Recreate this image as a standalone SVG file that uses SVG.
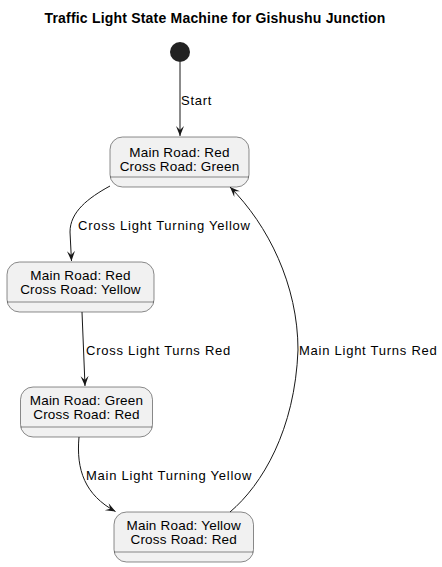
<svg xmlns="http://www.w3.org/2000/svg" width="442" height="567" viewBox="0 0 442 567">
<defs>
<marker id="arr" markerUnits="userSpaceOnUse" markerWidth="12" markerHeight="10" refX="10" refY="4" orient="auto">
<path d="M0,0 L10,4 L0,8 L4,4 Z" fill="#181818"/>
</marker>
<style>
.node rect{fill:#F1F1F1;stroke:#181818;stroke-width:0.5}
.node line{stroke:#181818;stroke-width:0.5}
.node text{font-family:"Liberation Sans",Arial,sans-serif;font-size:13.5px;letter-spacing:0.2px;fill:#000;text-anchor:middle}
.edge{fill:none;stroke:#181818;stroke-width:1;marker-end:url(#arr)}
.lbl{font-family:"Liberation Sans",Arial,sans-serif;font-size:13px;letter-spacing:0.75px;fill:#000}
.title{font-family:"Liberation Sans",Arial,sans-serif;font-size:14px;font-weight:bold;fill:#000;text-anchor:middle;letter-spacing:0.2px}
</style>
</defs>
<rect width="442" height="567" fill="#FFFFFF"/>
<text class="title" x="215" y="23">Traffic Light State Machine for Gishushu Junction</text>
<g id="start"><circle cx="180" cy="52" r="10" fill="#222222"/></g>
<g id="s1" class="node">
<rect x="110" y="137" width="139" height="50" rx="12.5"/>
<line x1="110" y1="177" x2="249" y2="177"/>
<text x="179.5" y="157"><tspan x="179.5">Main Road: Red</tspan><tspan x="179.5" dy="14">Cross Road: Green</tspan></text>
</g>
<g id="s2" class="node">
<rect x="7" y="262" width="147" height="50" rx="12.5"/>
<line x1="7" y1="302" x2="154" y2="302"/>
<text x="80.5" y="280"><tspan x="80.5">Main Road: Red</tspan><tspan x="80.5" dy="14">Cross Road: Yellow</tspan></text>
</g>
<g id="s3" class="node">
<rect x="20.5" y="387" width="132" height="50" rx="12.5"/>
<line x1="20.5" y1="427" x2="152.5" y2="427"/>
<text x="86.5" y="405"><tspan x="86.5">Main Road: Green</tspan><tspan x="86.5" dy="14">Cross Road: Red</tspan></text>
</g>
<g id="s4" class="node">
<rect x="114" y="512" width="139.5" height="50" rx="12.5"/>
<line x1="114" y1="552" x2="253.5" y2="552"/>
<text x="183.75" y="530"><tspan x="183.75">Main Road: Yellow</tspan><tspan x="183.75" dy="14">Cross Road: Red</tspan></text>
</g>
<g id="edges">
<path class="edge" d="M180,62 L180,136"/>
<text class="lbl" x="181" y="105">Start</text>
<path class="edge" d="M110,186 C88,198 70,212 70,232 L71.5,261"/>
<text class="lbl" x="78" y="230">Cross Light Turning Yellow</text>
<path class="edge" d="M82,312 L85,386"/>
<text class="lbl" x="86" y="355">Cross Light Turns Red</text>
<path class="edge" d="M79,437 C76,470 85,495 115.5,511.5"/>
<text class="lbl" x="86" y="480">Main Light Turning Yellow</text>
<path class="edge" d="M230,512 C262,485 295,430 298,350 C298,285 268,225 230,187"/>
<text class="lbl" x="299" y="355">Main Light Turns Red</text>
</g>
</svg>
